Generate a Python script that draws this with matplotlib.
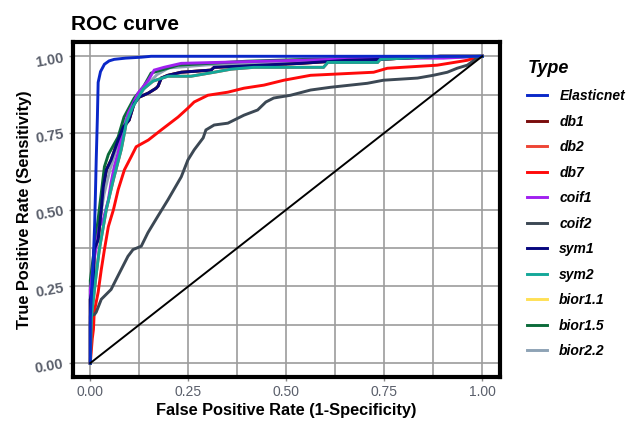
import matplotlib
matplotlib.use('Agg')
import matplotlib.pyplot as plt
import numpy as np

plt.rcParams['font.family'] = ['Liberation Sans', 'DejaVu Sans']

# ROC points (fpr, tpr)
elastic_fpr = [0, 0.0, 0.004, 0.008, 0.011, 0.013, 0.015, 0.018, 0.020, 0.026, 0.036, 0.048, 0.061, 0.090, 0.130, 0.155, 1.0]
elastic_tpr = [0, 0.15, 0.25, 0.35, 0.45, 0.55, 0.66, 0.80, 0.915, 0.950, 0.974, 0.985, 0.990, 0.994, 0.997, 1.0, 1.0]

sym1_fpr = [0, 0.0, 0.008, 0.010, 0.020, 0.028, 0.033, 0.041, 0.053, 0.071, 0.084, 0.099, 0.112, 0.125, 0.148,
            0.168, 0.173, 0.181, 0.198, 0.232, 0.308, 0.316, 0.537, 0.656, 0.740, 0.893, 1.0]
sym1_tpr = [0, 0.208, 0.263, 0.370, 0.403, 0.500, 0.575, 0.630, 0.662, 0.727, 0.769, 0.792, 0.847, 0.867, 0.880,
            0.896, 0.903, 0.929, 0.938, 0.948, 0.955, 0.964, 0.977, 0.987, 0.990, 1.0, 1.0]

sym2_fpr = [0, 0.003, 0.015, 0.018, 0.023, 0.041, 0.059, 0.079, 0.084, 0.092, 0.109, 0.135, 0.160, 0.198, 0.257,
            0.316, 0.359, 0.417, 0.595, 0.606, 0.733, 0.740, 0.893, 1.0]
sym2_tpr = [0, 0.153, 0.290, 0.320, 0.371, 0.502, 0.599, 0.697, 0.730, 0.785, 0.837, 0.893, 0.919, 0.935, 0.935,
            0.948, 0.958, 0.964, 0.964, 0.980, 0.980, 0.990, 1.0, 1.0]

db7_fpr = [0, 0.005, 0.008, 0.010, 0.020, 0.028, 0.036, 0.046, 0.059, 0.071, 0.087, 0.104, 0.117, 0.148, 0.181,
           0.224, 0.249, 0.265, 0.300, 0.351, 0.392, 0.443, 0.494, 0.562, 0.723, 0.758, 0.885, 0.962, 0.987, 1.0]
db7_tpr = [0, 0.08, 0.110, 0.166, 0.231, 0.305, 0.370, 0.445, 0.500, 0.565, 0.630, 0.672, 0.705, 0.727, 0.760,
           0.802, 0.831, 0.851, 0.873, 0.883, 0.896, 0.906, 0.922, 0.938, 0.948, 0.961, 0.971, 0.987, 0.997, 1.0]

coif1_fpr = [0, 0.0, 0.010, 0.023, 0.033, 0.046, 0.053, 0.061, 0.071, 0.079, 0.097, 0.122, 0.148, 0.163, 0.188,
             0.232, 0.537, 0.733, 0.901, 1.0]
coif1_tpr = [0, 0.240, 0.338, 0.445, 0.468, 0.532, 0.588, 0.640, 0.685, 0.737, 0.815, 0.880, 0.922, 0.955, 0.964,
             0.977, 0.987, 0.994, 0.994, 1.0]

coif2_fpr = [0, 0.0, 0.001, 0.011, 0.015, 0.028, 0.053, 0.070, 0.096, 0.109, 0.130, 0.147, 0.172, 0.198, 0.232,
             0.249, 0.265, 0.288, 0.295, 0.316, 0.351, 0.392, 0.427, 0.448, 0.468, 0.511, 0.562, 0.613, 0.707,
             0.748, 0.835, 0.875, 0.911, 0.936, 0.962, 0.987, 1.0]
coif2_tpr = [0, 0.13, 0.154, 0.159, 0.166, 0.208, 0.240, 0.283, 0.348, 0.370, 0.381, 0.425, 0.478, 0.532, 0.607,
             0.662, 0.695, 0.734, 0.760, 0.776, 0.782, 0.808, 0.825, 0.851, 0.864, 0.873, 0.890, 0.899, 0.912,
             0.922, 0.929, 0.938, 0.948, 0.961, 0.971, 0.994, 1.0]

bior15_fpr = [0, 0.0, 0.010, 0.020, 0.036, 0.046, 0.071, 0.086, 0.112, 0.135, 0.155, 0.181, 0.224, 0.40, 0.55, 0.90, 1.0]
bior15_tpr = [0, 0.27, 0.37, 0.47, 0.64, 0.68, 0.737, 0.802, 0.864, 0.899, 0.945, 0.955, 0.971, 0.984, 0.990, 0.997, 1.0]

bior22_fpr = [0, 0.0, 0.010, 0.022, 0.035, 0.050, 0.070, 0.090, 0.115, 0.140, 0.170, 0.200, 0.300, 0.450, 0.600, 0.900, 1.0]
bior22_tpr = [0, 0.25, 0.35, 0.45, 0.55, 0.63, 0.71, 0.79, 0.85, 0.90, 0.94, 0.962, 0.972, 0.980, 0.990, 0.997, 1.0]

# Haar wavelets (db1, bior1.1) coincide with sym1, db2 coincides with sym2
types = ['Elasticnet', 'db1', 'db2', 'db7', 'coif1', 'coif2', 'sym1', 'sym2', 'bior1.1', 'bior1.5', 'bior2.2']
colors = ['#0A28C8', '#7A0C0C', '#EE4535', '#FF0A0A', '#A020F0', '#3C4854',
          '#06067E', '#14A899', '#FFE055', '#0B6B3A', '#8EA3B5']
curves = {
    'Elasticnet': (elastic_fpr, elastic_tpr),
    'db1': (sym1_fpr, sym1_tpr),
    'db2': (sym2_fpr, sym2_tpr),
    'db7': (db7_fpr, db7_tpr),
    'coif1': (coif1_fpr, coif1_tpr),
    'coif2': (coif2_fpr, coif2_tpr),
    'sym1': (sym1_fpr, sym1_tpr),
    'sym2': (sym2_fpr, sym2_tpr),
    'bior1.1': (sym1_fpr, sym1_tpr),
    'bior1.5': (bior15_fpr, bior15_tpr),
    'bior2.2': (bior22_fpr, bior22_tpr),
}
draw_order = ['bior1.1', 'db1', 'db2', 'bior2.2', 'bior1.5', 'coif1', 'sym1', 'db7', 'coif2', 'sym2', 'Elasticnet']

fig = plt.figure(figsize=(6.3, 4.26), dpi=100)
ax = fig.add_axes([0.116, 0.116, 0.678, 0.785])

lines = {}
for i, name in enumerate(draw_order):
    fpr, tpr = curves[name]
    col = colors[types.index(name)]
    ln, = ax.plot(fpr, tpr, color=col, lw=2.1, label=name, zorder=3 + i * 0.01,
                  solid_joinstyle='miter')
    lines[name] = ln

ax.plot([0, 1], [0, 1], color='black', lw=1.4, zorder=4)

ax.set_xlim(-0.044, 1.046)
ax.set_ylim(-0.044, 1.046)
ticks = [0, 0.25, 0.5, 0.75, 1.0]
ax.set_xticks(ticks)
ax.set_yticks(ticks)
ax.set_xticks([0.125, 0.375, 0.625, 0.875], minor=True)
ax.set_yticks([0.125, 0.375, 0.625, 0.875], minor=True)
ax.set_xticklabels(['0.00', '0.25', '0.50', '0.75', '1.00'], color='#5a5f6b', fontsize=10)
ax.set_yticklabels(['0.00', '0.25', '0.50', '0.75', '1.00'], color='#5a5f6b', fontsize=10.5,
                   fontweight='bold', rotation=10)
ax.grid(which='both', color='#9c9c9c', lw=1.2, zorder=0)
ax.tick_params(which='major', length=3, color='#8a8a8a', width=1, pad=3)
ax.tick_params(which='minor', length=0)
for s in ax.spines.values():
    s.set_linewidth(3)
    s.set_color('black')

ax.set_xlabel('False Positive Rate (1-Specificity)', fontsize=11.8, fontweight='bold', labelpad=3)
ax.set_ylabel('True Positive Rate (Sensitivity)', fontsize=11.8, fontweight='bold', labelpad=1)
ax.set_title('ROC curve', fontsize=15, fontweight='bold', loc='left', x=-0.005, pad=9)

handles = [lines[t] for t in types]
leg = fig.legend(handles, types, loc='upper left', bbox_to_anchor=(0.837, 0.858), frameon=False,
                 title='Type', alignment='left', handlelength=1.45, handletextpad=0.85,
                 labelspacing=0.83, borderaxespad=0, borderpad=0,
                 prop={'weight': 'bold', 'style': 'italic', 'size': 10})
leg.get_title().set_fontsize(13)
leg.get_title().set_fontweight('bold')
leg.get_title().set_fontstyle('italic')

fig.savefig('out.png', dpi=100)
